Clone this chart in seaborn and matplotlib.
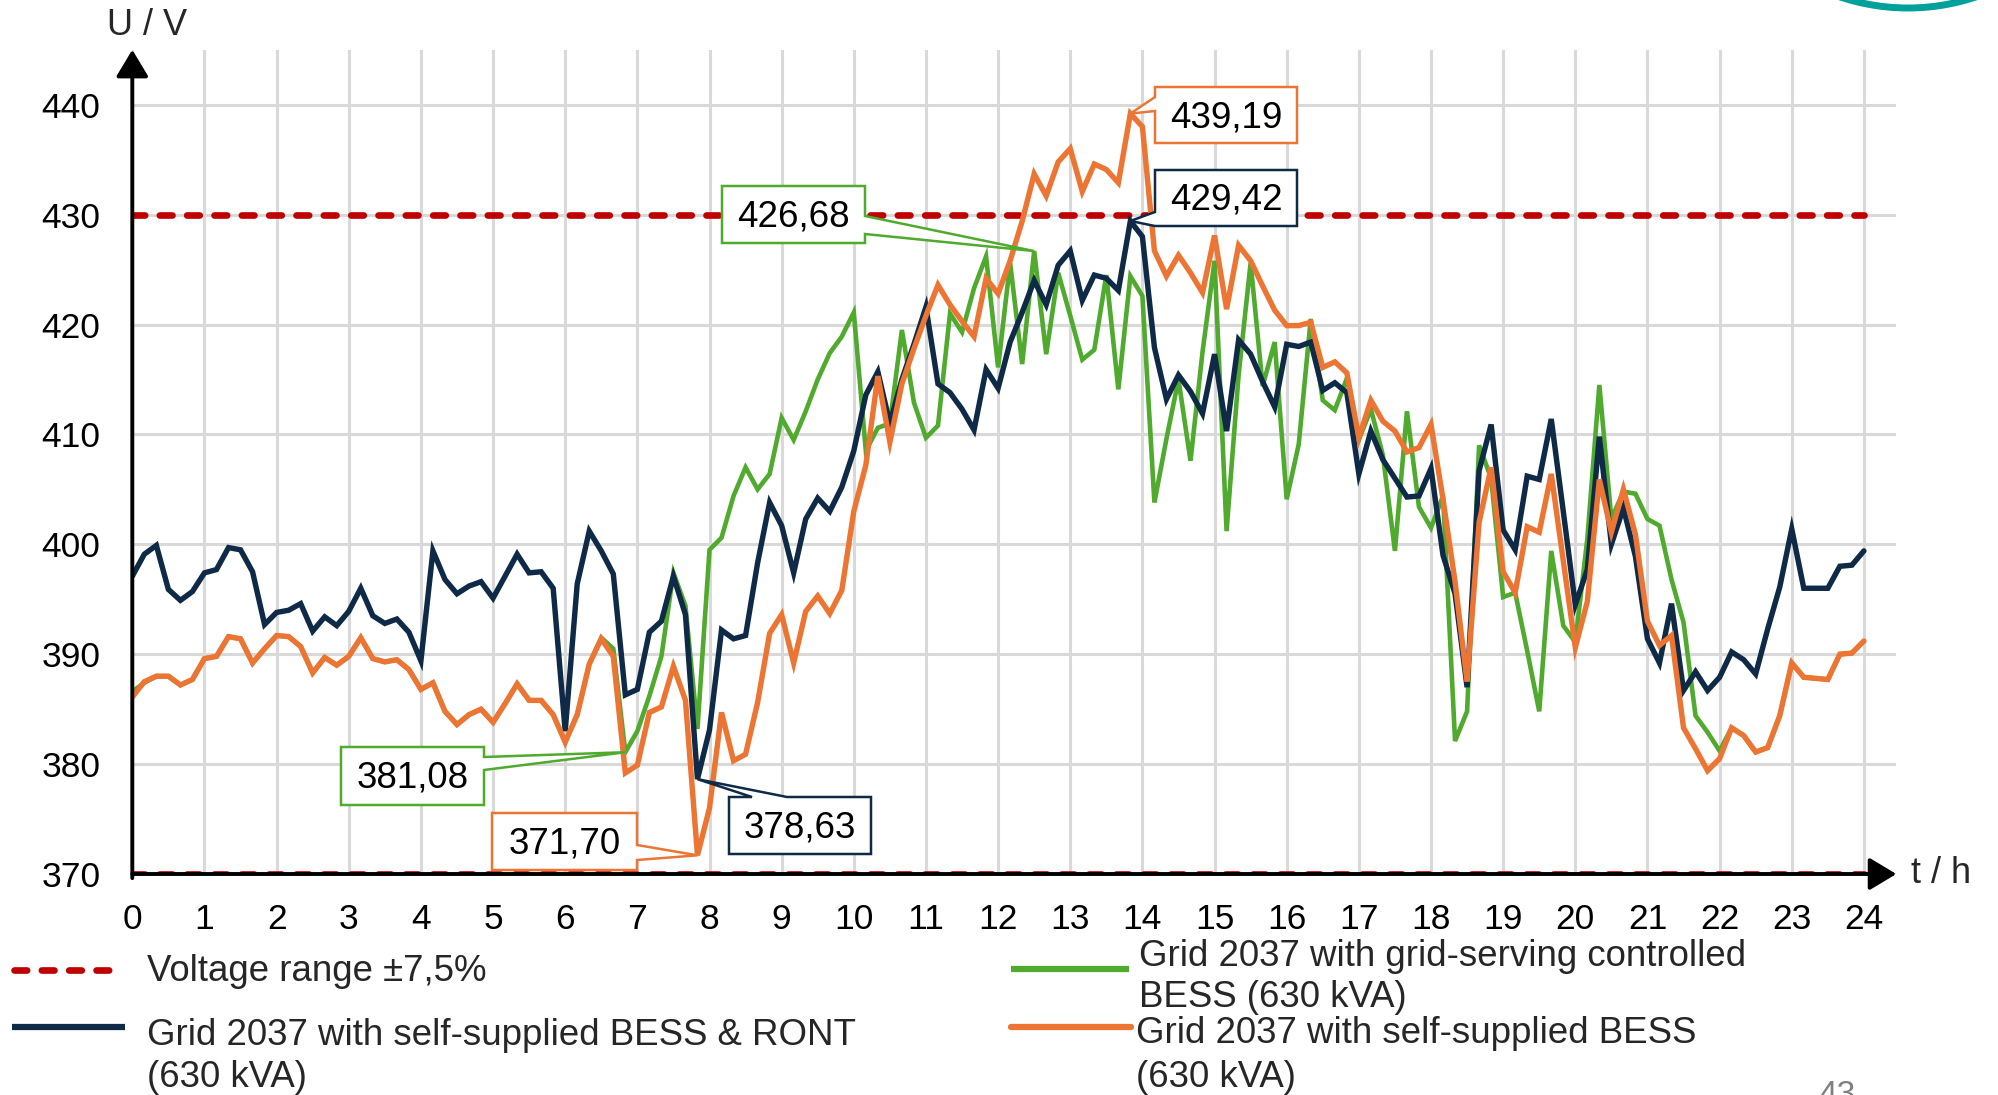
import numpy as np
import pandas as pd
import matplotlib
matplotlib.use("Agg")
import matplotlib.pyplot as plt
import seaborn as sns
from matplotlib.lines import Line2D
from matplotlib.patches import Polygon, Circle
from matplotlib.transforms import IdentityTransform

# ---------------------------------------------------------------- data
# time of day in hours, 10-minute resolution
hours = np.linspace(0, 24, 145)

# voltage band (400 V +/- 7.5 %)
band_limits = [370, 430]

# Grid 2037 with self-supplied BESS & RONT (630 kVA)
u_bess_ront = [
    397.1, 399.1, 399.9, 395.9, 394.9, 395.7,
    397.4, 397.7, 399.7, 399.5, 397.5, 392.7,
    393.8, 394.0, 394.6, 392.1, 393.4, 392.6,
    393.9, 396.0, 393.5, 392.8, 393.2, 392.0,
    389.4, 399.4, 396.8, 395.5, 396.2, 396.6,
    395.1, 397.1, 399.1, 397.4, 397.5, 396.0,
    383.0, 396.4, 401.2, 399.4, 397.3, 386.3,
    386.8, 392.0, 393.0, 397.1, 393.6, 378.63,
    383.1, 392.2, 391.4, 391.7, 398.3, 403.8,
    401.7, 397.4, 402.3, 404.2, 403.0, 405.2,
    408.5, 413.6, 415.7, 411.0, 415.0, 418.2,
    421.6, 414.6, 413.8, 412.3, 410.4, 415.9,
    414.2, 418.4, 421.1, 424.0, 421.8, 425.4,
    426.7, 422.2, 424.5, 424.2, 423.1, 429.42,
    428.0, 417.9, 413.2, 415.4, 413.9, 411.9,
    417.3, 410.3, 418.6, 417.3, 414.8, 412.5,
    418.2, 418.0, 418.4, 414.0, 414.7, 413.8,
    406.4, 410.3, 407.7, 406.0, 404.3, 404.4,
    406.9, 399.0, 395.5, 387.0, 406.7, 410.9,
    401.3, 399.5, 406.2, 405.9, 411.4, 403.0,
    394.5, 397.7, 409.8, 400.0, 403.3, 398.9,
    391.4, 389.2, 394.6, 386.7, 388.4, 386.7,
    387.9, 390.2, 389.5, 388.2, 392.3, 396.1,
    401.4, 396.0, 396.0, 396.0, 398.0, 398.1,
    399.4,
]

# Grid 2037 with grid-serving controlled BESS (630 kVA)
u_grid_serving = [
    386.6, 387.4, 388.0, 388.0, 387.2, 387.7,
    389.6, 389.8, 391.6, 391.4, 389.2, 390.5,
    391.7, 391.6, 390.7, 388.3, 389.7, 389.0,
    389.8, 391.5, 389.6, 389.3, 389.5, 388.6,
    386.8, 387.4, 384.8, 383.6, 384.5, 385.0,
    383.8, 385.5, 387.3, 385.8, 385.8, 384.5,
    382.0, 384.5, 389.1, 391.5, 390.5, 381.08,
    383.0, 386.2, 389.8, 397.4, 394.4, 383.2,
    399.5, 400.6, 404.4, 407.0, 405.0, 406.4,
    411.5, 409.5, 412.1, 415.0, 417.4, 418.9,
    421.1, 408.5, 410.6, 411.0, 419.5, 412.9,
    409.7, 410.8, 421.0, 419.3, 423.3, 426.2,
    416.1, 425.6, 416.4, 426.68, 417.3, 424.7,
    420.8, 416.8, 417.7, 424.5, 414.1, 424.4,
    422.6, 403.8, 409.6, 415.0, 407.6, 417.5,
    425.8, 401.2, 415.4, 425.6, 414.4, 418.4,
    404.1, 409.1, 420.5, 413.1, 412.2, 415.1,
    409.5, 412.3, 408.1, 399.4, 412.1, 403.4,
    401.5, 404.4, 382.1, 384.8, 409.0, 406.0,
    395.2, 395.6, 390.3, 384.8, 399.4, 392.6,
    391.1, 400.5, 414.5, 402.3, 404.8, 404.6,
    402.3, 401.7, 396.8, 392.9, 384.4, 382.9,
    381.2, 383.3, 382.6, 381.1, 381.5, 384.4,
    389.2, 387.9, 387.8, 387.7, 390.0, 390.1,
    391.2,
]

# Grid 2037 with self-supplied BESS (630 kVA)
u_self_supplied = [
    386.1, 387.5, 388.0, 388.0, 387.2, 387.7,
    389.6, 389.8, 391.6, 391.4, 389.2, 390.5,
    391.7, 391.6, 390.7, 388.3, 389.7, 389.0,
    389.8, 391.5, 389.6, 389.3, 389.5, 388.6,
    386.8, 387.4, 384.8, 383.6, 384.5, 385.0,
    383.8, 385.5, 387.3, 385.8, 385.8, 384.5,
    382.0, 384.5, 389.1, 391.4, 389.8, 379.2,
    379.9, 384.7, 385.2, 388.9, 385.8, 371.70,
    376.0, 384.7, 380.3, 380.9, 385.6, 391.9,
    393.6, 389.2, 393.9, 395.3, 393.7, 395.8,
    403.0, 407.2, 415.3, 409.3, 414.6, 417.8,
    420.8, 423.6, 421.8, 420.3, 418.9, 424.2,
    422.8, 425.8, 429.4, 433.7, 431.7, 434.8,
    436.0, 432.1, 434.6, 434.1, 432.9, 439.19,
    438.0, 426.7, 424.4, 426.3, 424.7, 422.9,
    428.1, 421.4, 427.2, 425.8, 423.5, 421.3,
    419.9, 419.9, 420.2, 416.1, 416.6, 415.6,
    409.7, 413.1, 411.2, 410.3, 408.4, 408.8,
    410.9, 404.1, 396.6, 387.5, 402.0, 407.0,
    397.5, 395.6, 401.6, 401.1, 406.4, 398.5,
    390.6, 394.8, 405.9, 401.1, 405.0, 400.9,
    393.0, 390.8, 391.7, 383.3, 381.4, 379.4,
    380.5, 383.3, 382.6, 381.1, 381.5, 384.4,
    389.2, 387.9, 387.8, 387.7, 390.0, 390.1,
    391.2,
]

x_ticks = list(range(0, 25))
y_ticks = list(range(370, 441, 10))

# ---------------------------------------------------------------- style
NAVY = "#0E2A47"
GREEN = "#4FAA2E"
ORANGE = "#EC7533"
RED = "#C00000"
GRID = "#D9D9D9"

sns.set_theme(style="white")
plt.rcParams["font.family"] = ["Liberation Sans", "DejaVu Sans"]

W, H = 1998, 1095
fig = plt.figure(figsize=(W / 100, H / 100), dpi=100)
fig.patch.set_facecolor("white")

# plot area in pixels: x=0 at 132, one hour = 72.15 px; 370 V at y=874, 10.99 px per volt
X_MAX = 24.45
Y_MIN, Y_MAX = 370, 445
ax_left, ax_right = 132.3, 132.3 + X_MAX * 72.15
ax_bottom, ax_top = 874.0, 874.0 - (Y_MAX - Y_MIN) * 10.99
ax = fig.add_axes([ax_left / W, (H - ax_bottom) / H,
                   (ax_right - ax_left) / W, (ax_bottom - ax_top) / H])
ax.set_facecolor("white")
ax.set_xlim(0, X_MAX)
ax.set_ylim(Y_MIN, Y_MAX)

# grid
ax.set_xticks(x_ticks)
ax.set_yticks(y_ticks)
ax.grid(True, color=GRID, linewidth=2.2, zorder=0)
ax.set_axisbelow(True)
for s in ax.spines.values():
    s.set_visible(False)

# voltage band limits
for lim in band_limits:
    ax.plot([0, 24], [lim, lim], color=RED, lw=4.8,
            linestyle=(0, (1.9, 2.2)), dash_capstyle="round", zorder=2)

# series (green first, orange on top)
series = [
    ("Grid 2037 with grid-serving controlled BESS (630 kVA)", u_grid_serving, GREEN, 3.3),
    ("Grid 2037 with self-supplied BESS & RONT (630 kVA)", u_bess_ront, NAVY, 3.9),
    ("Grid 2037 with self-supplied BESS (630 kVA)", u_self_supplied, ORANGE, 3.9),
]
for name, vals, col, lw in series:
    d = pd.DataFrame({"t": hours, "U": vals})
    sns.lineplot(data=d, x="t", y="U", color=col, linewidth=lw, ax=ax,
                 estimator=None, sort=False, legend=False, zorder=3)
    ax.lines[-1].set_solid_joinstyle("miter")

ax.set_xlabel("")
ax.set_ylabel("")

# axis arrows
arrow_kw = dict(arrowstyle="-|>,head_length=0.75,head_width=0.45",
                color="black", lw=2.8, shrinkA=0, shrinkB=0, mutation_scale=22)
ax.annotate("", xy=(1.0, 0), xytext=(0, 0), xycoords="axes fraction",
            arrowprops=arrow_kw, annotation_clip=False, zorder=4)
ax.annotate("", xy=(0, 1.0), xytext=(0, -0.005), xycoords="axes fraction",
            arrowprops=arrow_kw, annotation_clip=False, zorder=4)

ax.tick_params(axis="both", direction="inout", length=15, width=2.2,
               color="black", labelsize=25.5, labelcolor="black")
ax.tick_params(axis="x", pad=13.5)
ax.tick_params(axis="y", pad=15.5)
ax.set_xticklabels([str(v) for v in x_ticks])
ax.set_yticklabels([str(v) for v in y_ticks])

# axis titles
fig.text(147 / W, 1 - 35 / H, "U / V", fontsize=26, ha="center", va="baseline")
fig.text(1911 / W, 1 - 883 / H, "t / h", fontsize=26, ha="left", va="baseline")


# ---------------------------------------------------------------- callouts
def callout(t, v, label, color, box, edge, base):
    """Rectangle label with a pointer to the data point (t, v).
    box = (x0, x1, y0, y1) in pixels from the top-left corner."""
    x0, x1, y0, y1 = box
    tx, ty = ax.transData.transform((t, v))
    tip = (tx, H - ty)
    b1, b2 = base
    if edge == "right":
        pts = [(x0, y0), (x1, y0), (x1, b1), tip, (x1, b2), (x1, y1), (x0, y1)]
    elif edge == "left":
        pts = [(x0, y0), (x1, y0), (x1, y1), (x0, y1), (x0, b2), tip, (x0, b1)]
    elif edge == "top":
        pts = [(x0, y0), (b1, y0), tip, (b2, y0), (x1, y0), (x1, y1), (x0, y1)]
    else:
        pts = [(x0, y0), (x1, y0), (x1, y1), (b2, y1), tip, (b1, y1), (x0, y1)]
    disp = [(px, H - py) for px, py in pts]
    poly = Polygon(disp, closed=True, facecolor="white", edgecolor=color,
                   linewidth=1.8, transform=IdentityTransform(), zorder=10)
    fig.add_artist(poly)
    fig.text((x0 + x1) / 2 / W, 1 - ((y0 + y1) / 2 + 12) / H, label,
             fontsize=26.5, ha="center", va="baseline", color="black", zorder=11)


def idx(h):
    return int(round(h * 6))


callout(hours[idx(12.5)], u_grid_serving[idx(12.5)], "426,68", GREEN,
        (722, 865, 186, 243), "right", (216, 234))
callout(hours[idx(13 + 5 / 6)], u_self_supplied[idx(13 + 5 / 6)], "439,19", ORANGE,
        (1155, 1297, 87, 143), "left", (97, 111))
callout(hours[idx(13 + 5 / 6)], u_bess_ront[idx(13 + 5 / 6)], "429,42", NAVY,
        (1155, 1297, 170, 226), "left", (212, 226))
callout(hours[idx(6 + 5 / 6)], u_grid_serving[idx(6 + 5 / 6)], "381,08", GREEN,
        (341, 484, 747, 805), "right", (757, 770))
callout(hours[idx(7 + 5 / 6)], u_self_supplied[idx(7 + 5 / 6)], "371,70", ORANGE,
        (492, 637, 813, 870), "right", (845, 860))
callout(hours[idx(7 + 5 / 6)], u_bess_ront[idx(7 + 5 / 6)], "378,63", NAVY,
        (729, 871, 797, 854), "top", (752, 787))

# ---------------------------------------------------------------- legend
LEG_FS = 26.4


def leg_line(x0, x1, y, **kw):
    fig.add_artist(Line2D([x0 / W, x1 / W], [1 - y / H, 1 - y / H],
                          transform=fig.transFigure, **kw))


def leg_text(x, y_base, s):
    fig.text(x / W, 1 - y_base / H, s, fontsize=LEG_FS, ha="left", va="baseline")


leg_line(14, 123, 970, color=RED, lw=4.8, linestyle=(0, (1.9, 2.2)),
         dash_capstyle="round")
leg_text(147, 981, "Voltage range \u00b17,5%")

leg_line(12, 125, 1027, color=NAVY, lw=4.5, solid_capstyle="butt")
leg_text(147, 1045, "Grid 2037 with self-supplied BESS & RONT")
leg_text(147, 1087, "(630 kVA)")

leg_line(1011, 1129, 969, color=GREEN, lw=4.5, solid_capstyle="butt")
leg_text(1139, 966, "Grid 2037 with grid-serving controlled")
leg_text(1139, 1007, "BESS (630 kVA)")

leg_line(1011, 1131, 1027, color=ORANGE, lw=4.5, solid_capstyle="round")
leg_text(1136, 1043, "Grid 2037 with self-supplied BESS")
leg_text(1136, 1087, "(630 kVA)")

# page number (runs off the lower edge) and corner mark
fig.text(1818 / W, 1 - 1080 / H, "43", fontsize=24, color="#7F7F7F",
         ha="left", va="top")
fig.add_artist(Circle((1908, H + 206), 214, fill=False, edgecolor="#00A19A",
                      linewidth=5, transform=IdentityTransform(), zorder=1))

fig.savefig("out.png", dpi=100, facecolor="white")
